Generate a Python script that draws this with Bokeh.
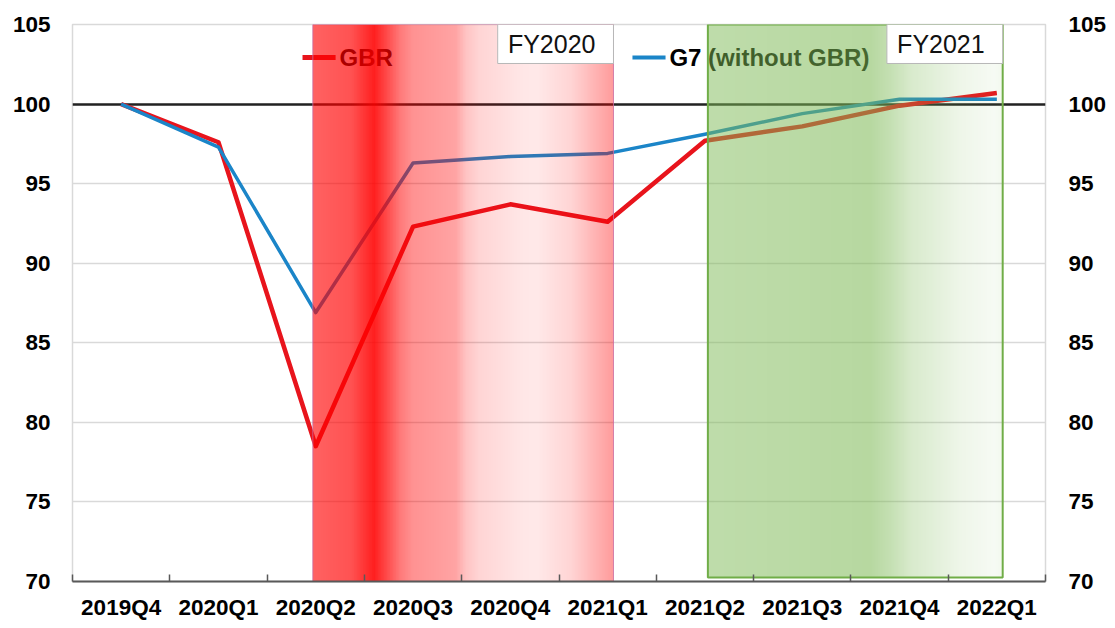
import numpy as np
from bokeh.plotting import figure
from bokeh.models import Range1d, LinearAxis, FixedTicker, CustomJSTickFormatter
from bokeh.core.properties import value
from bokeh.embed import file_html
from bokeh.resources import INLINE

# ---------------- data ----------------
quarters = ["2019Q4", "2020Q1", "2020Q2", "2020Q3", "2020Q4",
            "2021Q1", "2021Q2", "2021Q3", "2021Q4", "2022Q1"]
gbr = [100.0, 97.6, 78.5, 92.3, 93.7, 92.6, 97.7, 98.6, 99.9, 100.7]
g7_ex_gbr = [100.0, 97.3, 86.9, 96.3, 96.7, 96.9, 98.1, 99.4, 100.3, 100.3]
y_ticks = [70, 75, 80, 85, 90, 95, 100, 105]
fy_labels = ["FY2020", "FY2021"]
fy_first = ["2020Q2", "2021Q2"]
fy_last = ["2021Q1", "2022Q1"]
series_names = ["GBR", "G7 (without GBR)"]
series_colors = ["#e8141c", "#1b85c8"]

# ---------------- figure ----------------
idx = {q: i for i, q in enumerate(quarters)}
x = [idx[q] for q in quarters]
Y0, Y1 = 70, 105

FONT = "Liberation Sans"

p = figure(frame_width=973, frame_height=557, output_backend="svg", toolbar_location=None,
           x_range=Range1d(-0.5, len(quarters) - 0.5), y_range=Range1d(Y0, Y1),
           min_border_left=72, min_border_right=68, min_border_top=24, min_border_bottom=45)
p.background_fill_color = "white"
p.border_fill_color = "white"
p.outline_line_color = "#d9d9d9"
p.outline_line_width = 1.5

# axes
p.xaxis.ticker = FixedTicker(ticks=x, minor_ticks=[i - 0.5 for i in range(len(quarters) + 1)])
p.xaxis.formatter = CustomJSTickFormatter(args=dict(cats=quarters),
                                          code="return cats[Math.round(tick)] || '';")
p.xaxis.axis_line_color = "#595959"
p.xaxis.axis_line_width = 2
p.xaxis.major_tick_line_color = None
p.xaxis.minor_tick_line_color = "#595959"
p.xaxis.minor_tick_line_width = 1.5
p.xaxis.minor_tick_in = 7
p.xaxis.minor_tick_out = 0
p.xaxis.major_tick_out = 0
p.xaxis.major_tick_in = 0
p.xaxis.major_label_standoff = 13
p.xaxis.major_label_text_font = FONT
p.xaxis.major_label_text_font_style = "bold"
p.xaxis.major_label_text_font_size = "22.5px"
p.xaxis.major_label_text_color = "#000000"

p.yaxis.ticker = FixedTicker(ticks=y_ticks)
right_axis = LinearAxis(ticker=FixedTicker(ticks=y_ticks))
p.add_layout(right_axis, "right")
for ax in [p.yaxis[0], right_axis]:
    ax.axis_line_color = None
    ax.major_tick_line_color = None
    ax.minor_tick_line_color = None
    ax.major_tick_out = 0
    ax.major_label_text_font = FONT
    ax.major_label_text_font_style = "bold"
    ax.major_label_text_font_size = "22.5px"
    ax.major_label_text_color = "#000000"
p.yaxis[0].major_label_standoff = 22
right_axis.major_label_standoff = 23

p.xgrid.grid_line_color = None
p.ygrid.grid_line_color = "#d9d9d9"
p.ygrid.grid_line_width = 1.5
p.ygrid.ticker = FixedTicker(ticks=y_ticks)

# reference line at 100 (glyph, so that the shaded overlays tint it)
p.hspan(y=[100], line_color="#222222", line_width=2.5)

# ---------------- series ----------------
p.line(x, gbr, line_color=series_colors[0], line_width=4.5, line_join="round")
p.line(x, g7_ex_gbr, line_color=series_colors[1], line_width=3.5, line_join="round")

# legend drawn as glyphs beneath the shaded overlays
leg_y = Y1 - 2.07
leg_x0 = [idx["2020Q2"] - 0.136, idx["2021Q1"] + 0.255]
leg_len = 0.34
p.segment(x0=leg_x0, y0=[leg_y] * 2, x1=[a + leg_len for a in leg_x0], y1=[leg_y] * 2,
          line_color=series_colors, line_width=[5, 4])
p.text(x=[a + leg_len + 0.04 for a in leg_x0], y=[leg_y] * 2, text=series_names,
       text_align="left", text_baseline="middle", text_font=value(FONT),
       text_font_style="bold", text_font_size="24px", text_color="#000000")

# ---------------- gradient overlays ----------------
def gradient_image(rgb, stops, n=400):
    f = np.linspace(0, 1, n)
    fs, al = zip(*stops)
    a = np.interp(f, fs, al)
    img = np.empty((1, n), dtype=np.uint32)
    v = img.view(dtype=np.uint8).reshape((1, n, 4))
    v[0, :, 0] = rgb[0]
    v[0, :, 1] = rgb[1]
    v[0, :, 2] = rgb[2]
    v[0, :, 3] = np.clip(a * 255, 0, 255).astype(np.uint8)
    return img

red_stops = [(0.0, 0.62), (0.126, 0.68), (0.203, 0.88), (0.243, 0.72), (0.292, 0.52),
             (0.332, 0.43), (0.475, 0.36), (0.508, 0.24), (0.551, 0.17), (0.691, 0.10),
             (0.741, 0.09), (0.857, 0.17), (1.0, 0.40)]
green_stops = [(0.0, 0.50), (0.55, 0.56), (0.62, 0.45), (0.69, 0.30), (0.86, 0.13),
               (0.97, 0.07), (1.0, 0.10)]

red_l = idx[fy_first[0]] - 0.03
red_r = idx[fy_last[0]] + 0.06
grn_l = idx[fy_first[1]] + 0.03
grn_r = idx[fy_last[1]] + 0.06
grn_b = Y0 + 0.25

p.image_rgba(image=[gradient_image((255, 0, 0), red_stops)], x=red_l, y=Y0,
             dw=red_r - red_l, dh=Y1 - Y0)
p.quad(left=[red_l], right=[red_r], top=[Y1], bottom=[Y0], fill_color=None,
       line_color="#c86aa0", line_width=1, line_alpha=0.8)
p.image_rgba(image=[gradient_image((125, 185, 85), green_stops)], x=grn_l, y=grn_b,
             dw=grn_r - grn_l, dh=Y1 - grn_b)
p.quad(left=[grn_l], right=[grn_r], top=[Y1], bottom=[grn_b], fill_color=None,
       line_color="#70ad47", line_width=2)

# FY boxes
box_w = 1.19
box_h = 2.45
rights = [red_r, grn_r]
lefts = [r - box_w for r in rights]
p.quad(left=lefts, right=rights, top=[Y1, Y1], bottom=[Y1 - box_h] * 2,
       fill_color="white", line_color="#b8b8b8", line_width=1)
p.text(x=[l + 0.105 for l in lefts], y=[Y1 - box_h / 2] * 2, text=fy_labels,
       text_align="left", text_baseline="middle", text_font_size="25px",
       text_font=value(FONT), text_color="#111111")

open("out.html", "w").write(file_html(p, INLINE))
